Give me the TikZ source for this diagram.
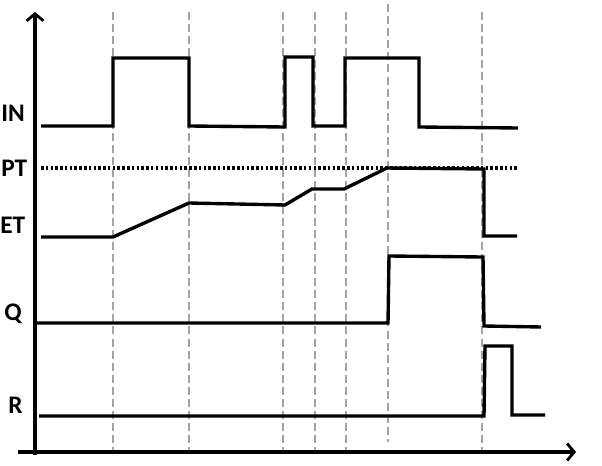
\documentclass[tikz,border=0pt]{standalone}
\usepackage{fontspec}
\setmainfont{Carlito}
\usetikzlibrary{arrows.meta}
\begin{document}
\begin{tikzpicture}[x=0.025cm, y=-0.025cm,
    signal/.style={line width=2.4pt, line join=miter},
    axis/.style={line width=2.3pt, -{Straight Barb[length=5pt, width=12pt, line width=2pt]}},
    marker/.style={draw=black!36, line width=2.1pt, dash pattern=on 5.7pt off 2.9pt},
    level/.style={line width=2.3pt, dash pattern=on 1.8pt off 1.6pt},
    signame/.style={font=\fontsize{18}{21}\selectfont\bfseries, anchor=west, inner sep=0pt}]
  \useasboundingbox (0,0) rectangle (602,465);
  % time instants
  \foreach \t in {113,189,283,315,346,482}
    \draw[marker] (\t,12) -- (\t,452);
  \draw[marker] (388,4) -- (388,442);
  % axes
  \draw[axis] (35,455) -- (35,12);
  \draw[axis] (18,452) -- (576,452);
  % signal names
  \node[signame] (in) at (1,113) {IN};
  \node[signame] (pt) at (1,168) {PT};
  \node[signame] (et) at (0,225) {ET};
  \node[signame] (q) at (4,314) {Q};
  \node[signame] (r) at (8,405) {R};
  % preset level
  \draw[level] (41,168) -- (518,168);
  % input
  \draw[signal] (41,126) -- (113,126) -- (113,58) -- (189,58) -- (189,126)
    -- (285,127) -- (285,57) -- (313,57) -- (313,126) -- (345,126) -- (345,58)
    -- (419,58) -- (419,127) -- (518,128);
  % elapsed time
  \draw[signal] (41,237) -- (113,237) -- (189,203) -- (285,205) -- (312,189)
    -- (344,189) -- (387,168) -- (484,169) -- (484,236) -- (517,236);
  % output
  \draw[signal] (35,323) -- (388,323) -- (389,256) -- (483,257) -- (484,326)
    -- (541,327);
  % reset
  \draw[signal] (39,416) -- (484,416) -- (485,346) -- (512,346) -- (512,415)
    -- (545,415);
\end{tikzpicture}
\end{document}
